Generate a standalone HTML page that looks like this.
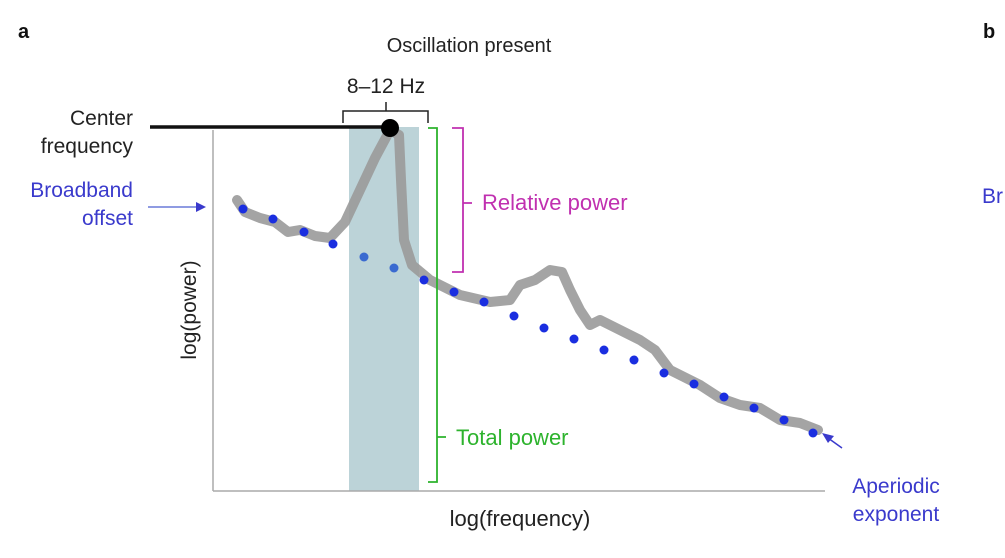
<!DOCTYPE html>
<html><head><meta charset="utf-8"><style>
html,body{margin:0;padding:0;background:#fff;}
svg{display:block;font-family:"Liberation Sans",sans-serif;}
</style></head><body>
<svg width="1005" height="558" viewBox="0 0 1005 558" xmlns="http://www.w3.org/2000/svg">
<text x="18" y="38" font-size="20" font-weight="bold" fill="#111">a</text>
<text x="983" y="38" font-size="20" font-weight="bold" fill="#111">b</text>
<text x="982" y="203" font-size="21" fill="#3a3acc">Br</text>
<rect x="349" y="127" width="70" height="364" fill="#bcd3d8"/>
<line x1="213" y1="130" x2="213" y2="491" stroke="#aaa" stroke-width="1.5"/>
<line x1="213" y1="491" x2="825" y2="491" stroke="#aaa" stroke-width="1.5"/>
<text x="469" y="52" font-size="20" fill="#222" text-anchor="middle">Oscillation present</text>
<text x="386" y="93" font-size="21" fill="#222" text-anchor="middle">8–12 Hz</text>
<path d="M343 123 V111 H428 V123 M386 111 V102" fill="none" stroke="#222" stroke-width="1.5"/>
<text x="133" y="125" font-size="21" fill="#222" text-anchor="end">Center</text>
<text x="133" y="153" font-size="21" fill="#222" text-anchor="end">frequency</text>
<text x="133" y="197" font-size="21" fill="#3a3acc" text-anchor="end">Broadband</text>
<text x="133" y="225" font-size="21" fill="#3a3acc" text-anchor="end">offset</text>
<line x1="148" y1="207" x2="198" y2="207" stroke="#6a7ad8" stroke-width="1.5"/>
<polygon points="206,207 196,202 196,212" fill="#3a3acc"/>
<path d="M237 200 L245 212 L260 218 L275 222 L288 232 L300 230 L315 236 L330 238 L345 222 L360 190 L375 158 L390 130 L399 135 L401 180 L404 240 L412 265 L430 280 L460 295 L490 302 L510 300 L520 285 L535 280 L550 270 L562 272 L570 290 L580 310 L590 325 L600 320 L620 330 L640 340 L655 350 L670 370 L690 380 L700 385 L720 398 L740 405 L760 408 L780 420 L800 423 L818 430" fill="none" stroke="#9a9a9a" stroke-width="10" stroke-linejoin="round" stroke-linecap="round" opacity="0.9"/>
<g fill="#1a2ee0">
<circle cx="243" cy="209" r="4.5"/><circle cx="273" cy="219" r="4.5"/><circle cx="304" cy="232" r="4.5"/><circle cx="333" cy="244" r="4.5"/><circle cx="364" cy="257" r="4.5" fill="#3a6ad0"/><circle cx="394" cy="268" r="4.5" fill="#3a6ad0"/><circle cx="424" cy="280" r="4.5"/><circle cx="454" cy="292" r="4.5"/><circle cx="484" cy="302" r="4.5"/><circle cx="514" cy="316" r="4.5"/><circle cx="544" cy="328" r="4.5"/><circle cx="574" cy="339" r="4.5"/><circle cx="604" cy="350" r="4.5"/><circle cx="634" cy="360" r="4.5"/><circle cx="664" cy="373" r="4.5"/><circle cx="694" cy="384" r="4.5"/><circle cx="724" cy="397" r="4.5"/><circle cx="754" cy="408" r="4.5"/><circle cx="784" cy="420" r="4.5"/><circle cx="813" cy="433" r="4.5"/>
</g>
<line x1="150" y1="127" x2="390" y2="127" stroke="#111" stroke-width="3.5"/>
<circle cx="390" cy="128" r="9" fill="#000"/>
<path d="M428 128 H437 V482 H428 M437 437 H446" fill="none" stroke="#2db32d" stroke-width="1.8"/>
<text x="456" y="445" font-size="22" fill="#2db32d">Total power</text>
<path d="M452 128 H463 V272 H452 M463 203 H472" fill="none" stroke="#c030b0" stroke-width="1.8"/>
<text x="482" y="210" font-size="22" fill="#c030b0">Relative power</text>
<line x1="842" y1="448" x2="828" y2="438" stroke="#3a3acc" stroke-width="1.5"/>
<polygon points="822,433 834,436 828,443" fill="#3a3acc"/>
<text x="896" y="493" font-size="21" fill="#3a3acc" text-anchor="middle">Aperiodic</text>
<text x="896" y="521" font-size="21" fill="#3a3acc" text-anchor="middle">exponent</text>
<text x="520" y="526" font-size="22" fill="#222" text-anchor="middle">log(frequency)</text>
<text transform="translate(196 310) rotate(-90)" font-size="21" fill="#222" text-anchor="middle">log(power)</text>
</svg>
</body></html>
